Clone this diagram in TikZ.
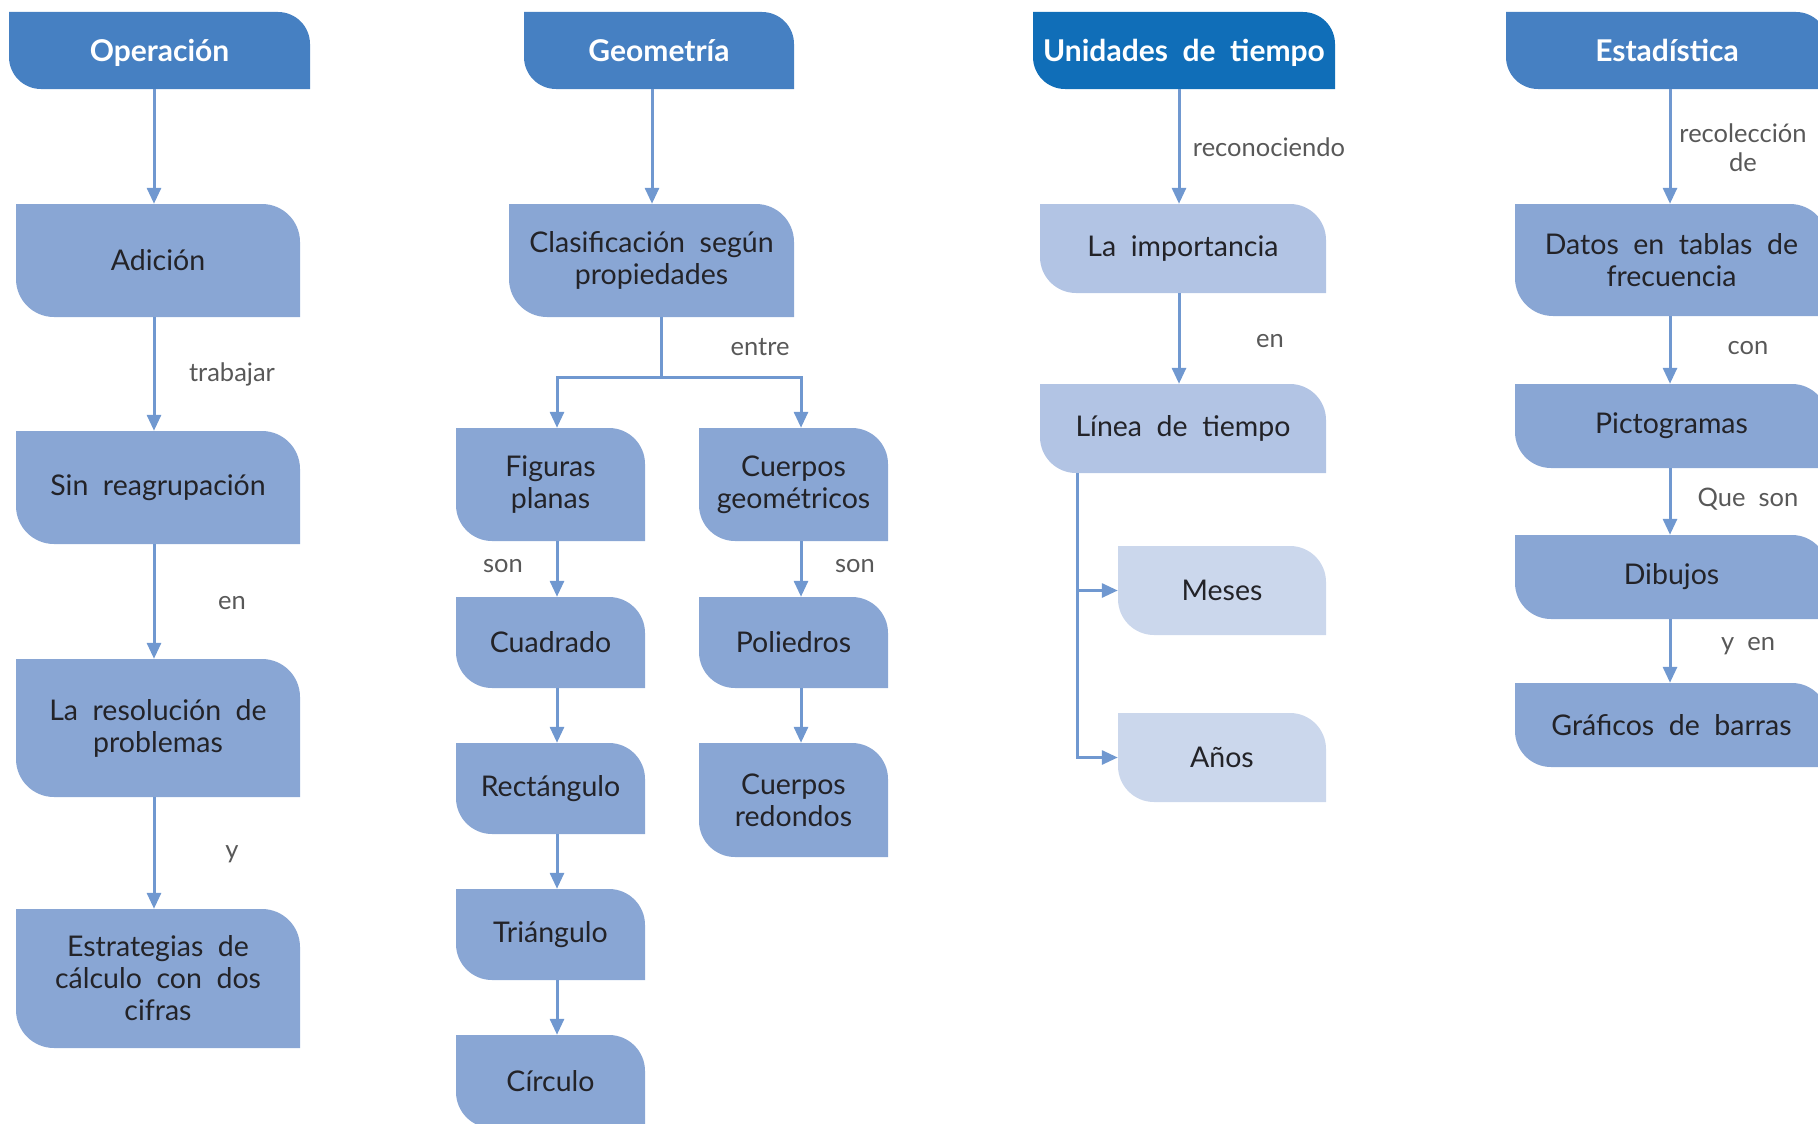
\documentclass[tikz,border=0pt]{standalone}
\usepackage{fontspec}
\setmainfont{Lato}[WordSpace=2.0]
\usetikzlibrary{arrows.meta}

\definecolor{headblue}{RGB}{70,128,194}
\definecolor{timeblue}{RGB}{16,110,184}
\definecolor{cardblue}{RGB}{137,166,212}
\definecolor{softblue}{RGB}{178,196,228}
\definecolor{paleblue}{RGB}{203,215,236}
\definecolor{linkblue}{RGB}{112,152,208}
\definecolor{inkdark}{RGB}{35,35,40}
\definecolor{labgrey}{RGB}{88,88,88}

\tikzset{
  cardtext/.style={inner sep=0pt, align=center, text=inkdark,
    font=\fontsize{28.5}{32}\selectfont},
  headtext/.style={text=white, text height=23pt, text depth=0pt,
    font=\bfseries\fontsize{30}{32}\selectfont},
  head/.style={fill=headblue, headtext},
  timehead/.style={fill=timeblue, headtext},
  midcard/.style={fill=cardblue},
  softcard/.style={fill=softblue},
  palecard/.style={fill=paleblue},
  link/.style={draw=linkblue, line width=3pt},
  conn/.style={link, -{Triangle[width=14pt,length=16pt]}},
  lab/.style={inner sep=0pt, align=center, text=labgrey,
    font=\fontsize{25.5}{29}\selectfont},
}

% card: name, left, top, right, bottom, style, corner radius, text
% (top-right and bottom-left corners are rounded)
\newcommand\card[8]{%
  \fill[#6] (#2,#3) -- ({#4-#7},#3)
     .. controls ({#4-0.448*#7},#3) and (#4,{#3+0.448*#7}) .. (#4,{#3+#7})
     -- (#4,#5) -- ({#2+#7},#5)
     .. controls ({#2+0.448*#7},#5) and (#2,{#5-0.448*#7}) .. (#2,{#5-#7})
     -- cycle;
  \node[cardtext, #6, fill=none, minimum width={(#4-#2)*1pt},
        minimum height={(#5-#3)*1pt}] (#1) at ({(#2+#4)/2},{(#3+#5)/2}) {#8};}

\begin{document}
\begin{tikzpicture}[x=1pt, y=-1pt]
\useasboundingbox (0,0) rectangle (1818,1124);
\clip (0,0) rectangle (1818,1124);

% column axes for the connectors
\coordinate (ax1) at (154,0);
\coordinate (ax2) at (652,0);
\coordinate (axL) at (557,0);
\coordinate (axR) at (801,0);
\coordinate (ax3) at (1179,0);
\coordinate (ax4) at (1670,0);
\coordinate (gfork) at (661,377);
\coordinate (tfork) at (1077,0);

% ---- Operación ----
\card{op}{9}{12}{310}{89}{head}{32}{Operación}
\card{ad}{16}{204}{300}{317}{midcard}{38}{Adición}
\card{sin}{16}{431}{300}{544}{midcard}{38}{Sin reagrupación}
\card{res}{16}{659}{300}{797}{midcard}{38}{La resolución de\\problemas}
\card{est}{16}{909}{300}{1048}{midcard}{38}{Estrategias de\\cálculo con dos\\cifras}

\draw[conn] (op.south -| ax1) -- (ad.north -| ax1);
\draw[conn] (ad.south -| ax1) -- (sin.north -| ax1);
\draw[conn] (sin.south -| ax1) -- (res.north -| ax1);
\draw[conn] (res.south -| ax1) -- (est.north -| ax1);
\node[lab] (l1) at (232,374) {trabajar};
\node[lab] (l2) at (232,603) {en};
\node[lab] (l3) at (232,854) {y};

% ---- Geometría ----
\card{geo}{524}{12}{794}{89}{head}{32}{Geometría}
\card{cla}{509}{204}{794}{317}{midcard}{38}{Clasificación según\\propiedades}
\card{fig}{456}{428}{645}{541}{midcard}{36}{Figuras\\planas}
\card{cue}{699}{428}{888}{541}{midcard}{36}{Cuerpos\\geométricos}
\card{cua}{456}{597}{645}{688}{midcard}{36}{Cuadrado}
\card{rec}{456}{743}{645}{834}{midcard}{36}{Rectángulo}
\card{tri}{456}{889}{645}{980}{midcard}{36}{Triángulo}
\card{cir}{456}{1035}{645}{1128}{midcard}{36}{Círculo}
\card{pol}{699}{597}{888}{688}{midcard}{36}{Poliedros}
\card{red}{699}{743}{888}{857}{midcard}{36}{Cuerpos\\redondos}

\draw[conn] (geo.south -| ax2) -- (cla.north -| ax2);
\draw[link] (cla.south -| gfork) -- (gfork);
\draw[conn] (gfork) -| (fig.north -| axL);
\draw[conn] (gfork) -| (cue.north -| axR);
\draw[conn] (fig.south -| axL) -- (cua.north -| axL);
\draw[conn] (cua.south -| axL) -- (rec.north -| axL);
\draw[conn] (rec.south -| axL) -- (tri.north -| axL);
\draw[conn] (tri.south -| axL) -- (cir.north -| axL);
\draw[conn] (cue.south -| axR) -- (pol.north -| axR);
\draw[conn] (pol.south -| axR) -- (red.north -| axR);
\node[lab] (l4) at (760,347) {entre};
\node[lab] (l5) at (503,566) {son};
\node[lab] (l6) at (855,566) {son};

% ---- Unidades de tiempo ----
\card{uni}{1033}{12}{1335}{89}{timehead}{32}{Unidades de tiempo}
\card{imp}{1040}{204}{1326}{293}{softcard}{36}{La importancia}
\card{lin}{1040}{384}{1326}{473}{softcard}{36}{Línea de tiempo}
\card{mes}{1118}{546}{1326}{635}{palecard}{36}{Meses}
\card{ano}{1118}{713}{1326}{802}{palecard}{36}{Años}

\draw[conn] (uni.south -| ax3) -- (imp.north -| ax3);
\draw[conn] (imp.south -| ax3) -- (lin.north -| ax3);
\draw[conn] (lin.south -| tfork) |- (mes.west);
\draw[conn] (lin.south -| tfork) |- (ano.west);
\node[lab] (l7) at (1269,147) {reconociendo};
\node[lab] (l8) at (1270,341) {en};

% ---- Estadística ----
\card{sta}{1506}{12}{1828}{89}{head}{32}{Estadística}
\card{dat}{1515}{204}{1828}{316}{midcard}{38}{Datos en tablas de\\frecuencia}
\card{pic}{1515}{384}{1828}{468}{midcard}{36}{Pictogramas}
\card{dib}{1515}{535}{1828}{619}{midcard}{36}{Dibujos}
\card{gra}{1515}{683}{1828}{767}{midcard}{36}{Gráficos de barras}

\draw[conn] (sta.south -| ax4) -- (dat.north -| ax4);
\draw[conn] (dat.south -| ax4) -- (pic.north -| ax4);
\draw[conn] (pic.south -| ax4) -- (dib.north -| ax4);
\draw[conn] (dib.south -| ax4) -- (gra.north -| ax4);
\node[lab] (l9) at (1743,148) {recolección\\de};
\node[lab] (l10) at (1748,348) {con};
\node[lab] (l11) at (1748,499) {Que son};
\node[lab] (l12) at (1748,646) {y en};
\end{tikzpicture}
\end{document}
